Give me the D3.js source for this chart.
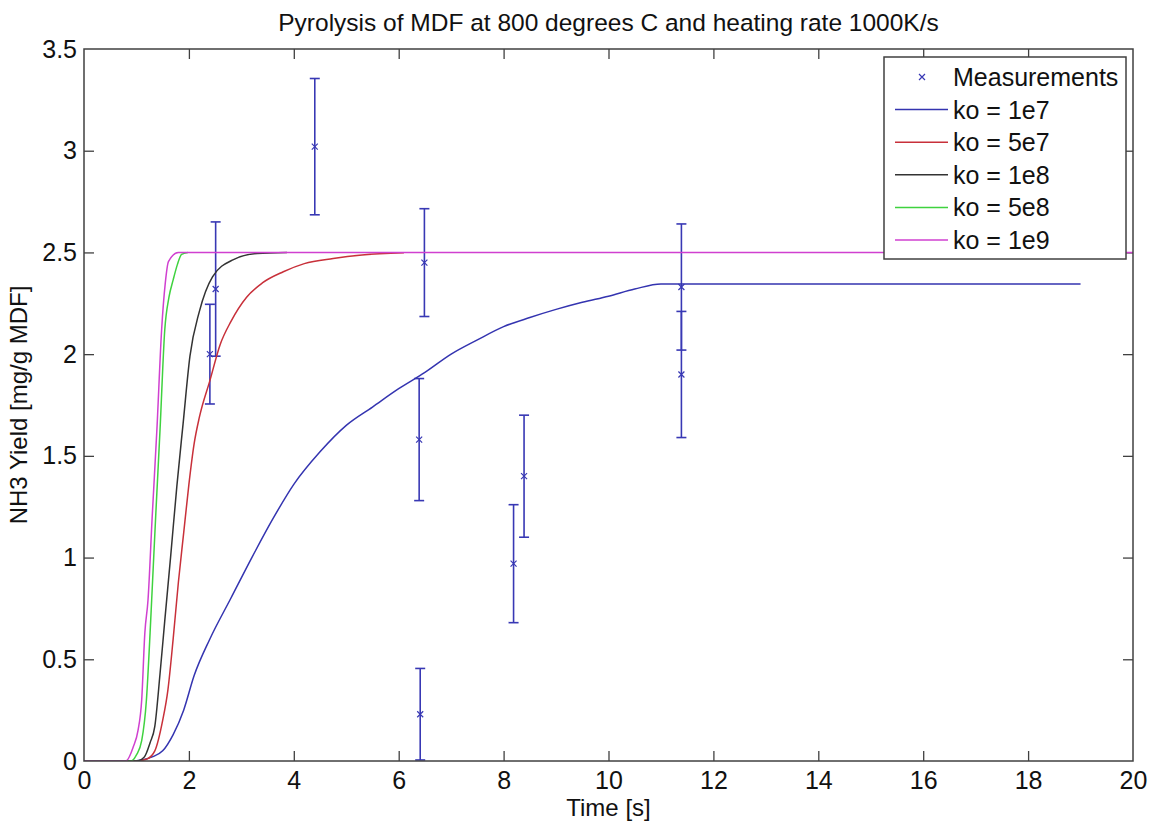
<!DOCTYPE html>
<html>
<head>
<meta charset="utf-8">
<script src="https://cdn.jsdelivr.net/npm/d3@7.9.0/dist/d3.min.js"></script>
<style>
  html, body { margin: 0; padding: 0; background: #fff; }
  svg { display: block; font-family: "Liberation Sans", Arial, sans-serif; }
  .axis text { font-size: 25px; fill: #111; }
  .axis line { stroke: #404040; stroke-width: 1.3; }
</style>
</head>
<body>
<svg id="chart" width="1151" height="823"></svg>
<script>
// measurements (time, yield, error)
const measT = [2.40, 2.51, 4.40, 6.49, 6.39, 6.41, 8.39, 8.19, 11.39, 11.39];
const measY = [2.00, 2.32, 3.02, 2.45, 1.58, 0.23, 1.40, 0.97, 2.33, 1.90];
const measErr = [0.245, 0.33, 0.335, 0.265, 0.30, 0.225, 0.30, 0.29, 0.31, 0.31];

// model curves
const t1e7 = [0, 0.9, 1.1, 1.3, 1.5, 1.7, 1.9, 2.1, 2.4, 2.8, 3.2, 3.6, 4.0, 4.5, 5.0, 5.5, 6.0, 6.5, 7.0, 7.5, 8.0, 8.5, 9.0, 9.5, 10.0, 10.5, 11.0, 19.0];
const y1e7 = [0, 0, 0.005, 0.02, 0.05, 0.13, 0.25, 0.42, 0.60, 0.80, 1.00, 1.19, 1.36, 1.52, 1.65, 1.74, 1.83, 1.91, 2.00, 2.07, 2.135, 2.18, 2.22, 2.255, 2.285, 2.32, 2.345, 2.345];

const t5e7 = [0, 1.0, 1.2, 1.35, 1.5, 1.6, 1.7, 1.8, 1.9, 2.0, 2.1, 2.2, 2.4, 2.6, 2.8, 3.1, 3.4, 3.8, 4.2, 4.75, 5.3, 6.1];
const y5e7 = [0, 0, 0.01, 0.05, 0.2, 0.35, 0.6, 0.88, 1.12, 1.36, 1.56, 1.69, 1.87, 2.05, 2.16, 2.28, 2.35, 2.405, 2.445, 2.47, 2.487, 2.498];

const t1e8 = [0, 1.0, 1.15, 1.26, 1.35, 1.45, 1.54, 1.65, 1.77, 1.89, 2.02, 2.2, 2.45, 2.85, 3.3, 3.87];
const y1e8 = [0, 0, 0.02, 0.09, 0.17, 0.43, 0.69, 1.0, 1.35, 1.66, 1.99, 2.21, 2.38, 2.465, 2.495, 2.5];

const t5e8 = [0, 0.9, 1.0, 1.1, 1.19, 1.26, 1.29, 1.37, 1.45, 1.54, 1.62, 1.7, 1.78, 1.86, 1.98];
const y5e8 = [0, 0, 0.03, 0.10, 0.30, 0.63, 0.79, 1.22, 1.63, 2.12, 2.28, 2.365, 2.44, 2.49, 2.5];

const t1e9 = [0, 0.8, 0.94, 1.03, 1.10, 1.16, 1.22, 1.30, 1.39, 1.48, 1.55, 1.61, 1.8, 20];
const y1e9 = [0, 0, 0.07, 0.15, 0.30, 0.63, 0.79, 1.2, 1.63, 2.12, 2.35, 2.455, 2.5, 2.5];

const seriesNames = ['ko = 1e7', 'ko = 5e7', 'ko = 1e8', 'ko = 5e8', 'ko = 1e9'];
const seriesColors = ['#3434b0', '#c8303a', '#333333', '#3fd23f', '#d040d0'];
const seriesT = [t1e7, t5e7, t1e8, t5e8, t1e9];
const seriesY = [y1e7, y5e7, y1e8, y5e8, y1e9];

const xTicks = [0, 2, 4, 6, 8, 10, 12, 14, 16, 18, 20];
const yTicks = [0, 0.5, 1, 1.5, 2, 2.5, 3, 3.5];

const margin = { top: 49, right: 18, bottom: 62, left: 84 };
const W = 1151, H = 823;
const w = W - margin.left - margin.right;
const h = H - margin.top - margin.bottom;

const svg = d3.select('#chart');
const g = svg.append('g').attr('transform', `translate(${margin.left},${margin.top})`);

const x = d3.scaleLinear().domain([0, 20]).range([0, w]);
const y = d3.scaleLinear().domain([0, 3.5]).range([h, 0]);

svg.append('defs').append('clipPath').attr('id', 'clip')
  .append('rect').attr('width', w).attr('height', h);

// axes, ticks inward on all sides
const fmt = d3.format('');
g.append('g').attr('class', 'axis').attr('transform', `translate(0,${h})`)
  .call(d3.axisBottom(x).tickValues(xTicks).tickFormat(fmt).tickSize(-10).tickPadding(10));
g.append('g').attr('class', 'axis')
  .call(d3.axisTop(x).tickValues(xTicks).tickFormat('').tickSize(-10));
g.append('g').attr('class', 'axis')
  .call(d3.axisLeft(y).tickValues(yTicks).tickFormat(fmt).tickSize(-10).tickPadding(7));
g.append('g').attr('class', 'axis').attr('transform', `translate(${w},0)`)
  .call(d3.axisRight(y).tickValues(yTicks).tickFormat('').tickSize(-10));
g.selectAll('.axis .domain').remove();
g.selectAll('.axis .tick').filter(d => d === 0 || d === 20 || d === 3.5).select('line').remove();

const plot = g.append('g').attr('clip-path', 'url(#clip)');

// error bars
const errColor = '#3838b4';
const cap = 5;
const meas = measT.map((t, i) => ({ t, v: measY[i], e: measErr[i] }));
const eb = plot.selectAll('.eb').data(meas).join('g').attr('class', 'eb')
  .attr('stroke', errColor).attr('stroke-width', 1.6).attr('fill', 'none');
eb.append('line')
  .attr('x1', d => x(d.t)).attr('x2', d => x(d.t))
  .attr('y1', d => y(d.v - d.e)).attr('y2', d => y(d.v + d.e));
eb.append('line')
  .attr('x1', d => x(d.t) - cap).attr('x2', d => x(d.t) + cap)
  .attr('y1', d => y(d.v + d.e)).attr('y2', d => y(d.v + d.e));
eb.append('line')
  .attr('x1', d => x(d.t) - cap).attr('x2', d => x(d.t) + cap)
  .attr('y1', d => y(d.v - d.e)).attr('y2', d => y(d.v - d.e));
eb.append('path')
  .attr('d', d => `M${x(d.t) - 3},${y(d.v) - 3}L${x(d.t) + 3},${y(d.v) + 3}M${x(d.t) - 3},${y(d.v) + 3}L${x(d.t) + 3},${y(d.v) - 3}`)
  .attr('stroke-width', 1.2);

// model curves
const line = d3.line().x(d => x(d[0])).y(d => y(d[1])).curve(d3.curveMonotoneX);
seriesT.forEach((ts, i) => {
  const pts = ts.map((t, j) => [t, seriesY[i][j]]);
  plot.append('path').datum(pts)
    .attr('d', line)
    .attr('fill', 'none')
    .attr('stroke', seriesColors[i])
    .attr('stroke-width', 1.5);
});

// frame
g.append('rect').attr('width', w).attr('height', h)
  .attr('fill', 'none').attr('stroke', '#404040').attr('stroke-width', 1.5);

// title and labels
svg.append('text').attr('x', margin.left + w / 2).attr('y', 31)
  .attr('text-anchor', 'middle').attr('font-size', 24.5).attr('fill', '#111')
  .text('Pyrolysis of MDF at 800 degrees C and heating rate 1000K/s');
svg.append('text').attr('x', margin.left + w / 2).attr('y', 816)
  .attr('text-anchor', 'middle').attr('font-size', 24).attr('fill', '#111')
  .text('Time [s]');
svg.append('text').attr('transform', `translate(27,${margin.top + h / 2}) rotate(-90)`)
  .attr('text-anchor', 'middle').attr('font-size', 24).attr('fill', '#111')
  .text('NH3 Yield [mg/g MDF]');

// legend
const lg = svg.append('g').attr('transform', 'translate(884,57)');
lg.append('rect').attr('width', 242).attr('height', 202)
  .attr('fill', '#fff').attr('stroke', '#404040').attr('stroke-width', 1.5);
const rowH = 32.6;
const legendItems = ['Measurements'].concat(seriesNames);
legendItems.forEach((name, i) => {
  const cy = 20 + i * rowH;
  if (i === 0) {
    lg.append('path')
      .attr('d', `M35,${cy - 3}L41,${cy + 3}M35,${cy + 3}L41,${cy - 3}`)
      .attr('stroke', errColor).attr('stroke-width', 1.2);
  } else {
    lg.append('line').attr('x1', 11).attr('x2', 64).attr('y1', cy).attr('y2', cy)
      .attr('stroke', seriesColors[i - 1]).attr('stroke-width', 1.5);
  }
  lg.append('text').attr('x', 69).attr('y', cy + 9)
    .attr('font-size', 25).attr('fill', '#111').text(name);
});
</script>
</body>
</html>
